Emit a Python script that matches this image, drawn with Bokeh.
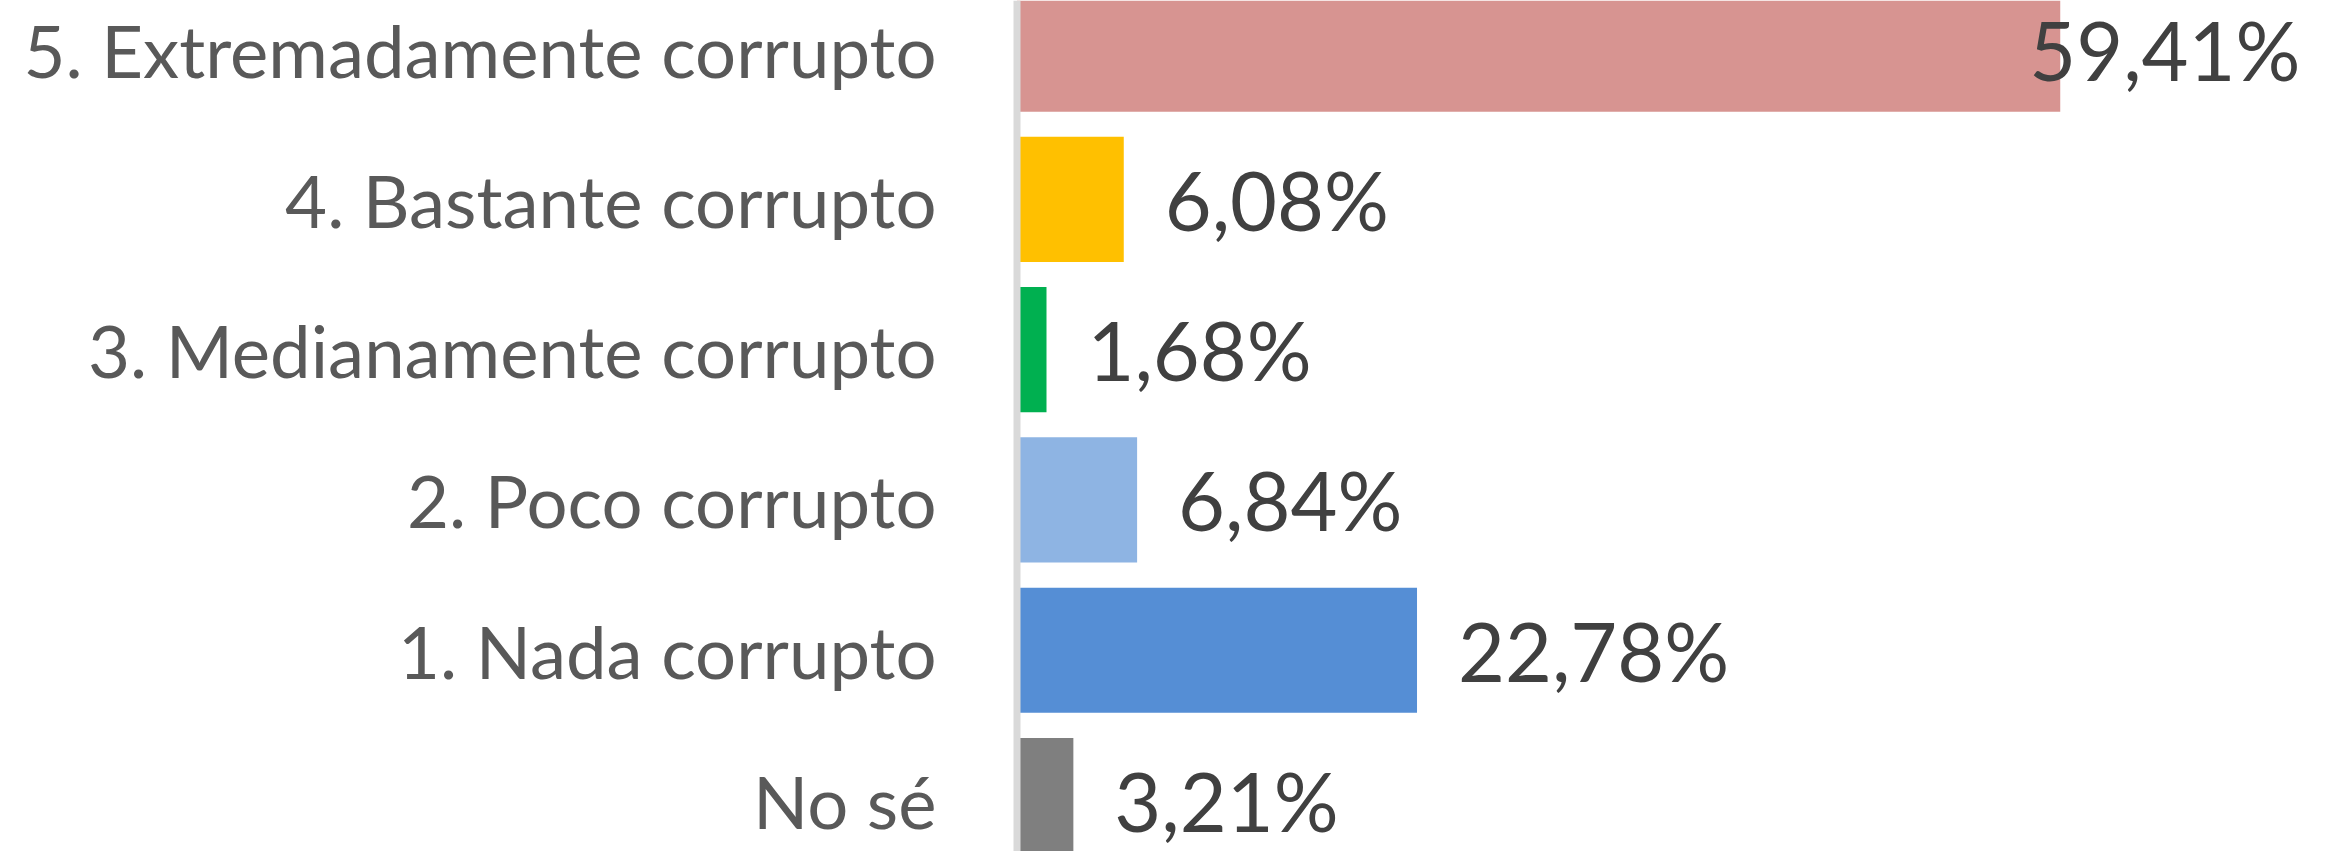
from bokeh.plotting import figure
from bokeh.models import ColumnDataSource, FixedTicker, Span, LabelSet
from bokeh.core.properties import value
from bokeh.embed import file_html
from bokeh.resources import INLINE

# ---- data ----
categories = ["No sé", "1. Nada corrupto", "2. Poco corrupto",
              "3. Medianamente corrupto", "4. Bastante corrupto",
              "5. Extremadamente corrupto"]
percentages = [3.21, 22.78, 6.84, 1.68, 6.08, 59.41]
bar_colors = ["#7F7F7F", "#558ED5", "#8EB4E3", "#00B050", "#FFC000", "#D79491"]

labels = [("%.2f%%" % v).replace(".", ",") for v in percentages]
positions = list(range(len(categories)))

W, H = 2331, 851
BORDER_LEFT = 1006
px_per_unit = 17.56
x_start = -10.5 / px_per_unit
x_end = x_start + (W - BORDER_LEFT) / px_per_unit
y_end = 5.323
y_start = y_end - H / 150.3

p = figure(width=W, height=H, output_backend="svg", toolbar_location=None,
           x_range=(x_start, x_end), y_range=(y_start, y_end),
           x_axis_location=None, min_border_left=BORDER_LEFT,
           min_border_right=0, min_border_top=0, min_border_bottom=0)
p.outline_line_color = None
p.xgrid.visible = False
p.ygrid.visible = False
p.background_fill_color = "white"
p.border_fill_color = "white"

src = ColumnDataSource(dict(y=positions, right=percentages, color=bar_colors))
p.hbar(y="y", left=0, right="right", height=0.833, fill_color="color",
       line_color=None, source=src)

# axis line at zero
p.add_layout(Span(location=0, dimension="height", line_color="#D9D9D9",
                  line_width=7, level="overlay"))

ax = p.yaxis[0]
ax.ticker = FixedTicker(ticks=positions)
ax.major_label_overrides = {i: c for i, c in zip(positions, categories)}
ax.axis_line_color = None
ax.major_tick_line_color = None
ax.minor_tick_line_color = None
ax.major_tick_out = 0
ax.major_tick_in = 0
ax.major_label_standoff = 70
ax.major_label_text_font = "Lato"
ax.major_label_text_font_size = "72.5px"
ax.major_label_text_color = "#595959"

# value labels: outside end, pulled inside the plot when they'd overflow
gap = 41 / px_per_unit
label_w = 285 / px_per_unit
right_limit = x_end - 31 / px_per_unit
fit = dict(x=[], y=[], t=[])
over = dict(x=[], y=[], t=[])
for pos, v, t in zip(positions, percentages, labels):
    if v + gap + label_w > right_limit:
        over["x"].append(right_limit); over["y"].append(pos); over["t"].append(t)
    else:
        fit["x"].append(v); fit["y"].append(pos); fit["t"].append(t)

common = dict(x="x", y="y", text="t", text_font=value("Lato"),
              text_font_size="81px", text_color="#404040",
              text_baseline="middle", y_offset=0, level="overlay")
p.add_layout(LabelSet(source=ColumnDataSource(fit), x_offset=41,
                      text_align="left", **common))
p.add_layout(LabelSet(source=ColumnDataSource(over),
                      text_align="right", **common))

open("out.html", "w").write(file_html(p, INLINE))
